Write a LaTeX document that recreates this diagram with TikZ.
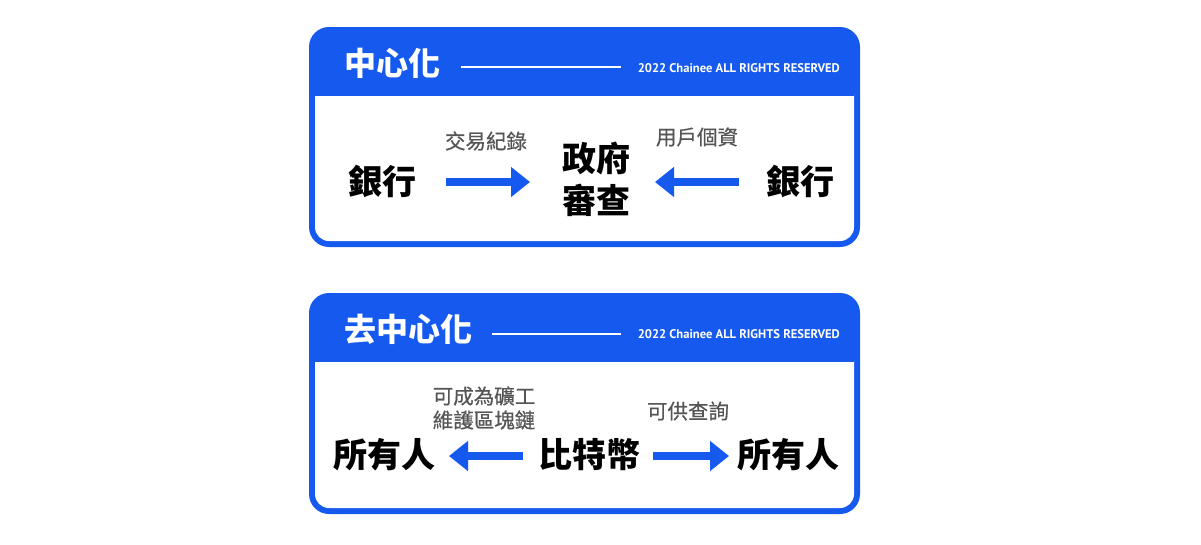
\documentclass[tikz,border=0pt]{standalone}
\usepackage{fontspec}
\usetikzlibrary{arrows.meta}
\newfontfamily\cjk{Noto Sans CJK TC}
\newfontfamily\cjkm[FakeBold=0.6]{Noto Sans CJK TC}
\newfontfamily\cprfont{PT Sans}
\definecolor{cblue}{HTML}{1559EE}
\definecolor{lgray}{HTML}{555555}
\tikzset{
  cardtitle/.style={text=white, font=\cjk\bfseries\fontsize{32}{38}\selectfont, inner sep=0pt, anchor=west},
  cprnode/.style={text=white, inner sep=0pt, anchor=east, font=\cprfont\bfseries},
  mainlabel/.style={text=black, font=\cjk\bfseries\fontsize{34}{42}\selectfont, inner sep=0pt, align=center},
  sublabel/.style={text=lgray, font=\cjkm\fontsize{20.5}{24}\selectfont, inner sep=0pt, align=center},
  bigarrow/.style={draw=cblue, line width=7.5pt, -{Triangle[length=19pt,width=29pt]}},
  hline/.style={draw=white, line width=1.3pt}
}
\newcommand{\cprtext}{\resizebox{202pt}{!}{2022 Chainee ALL RIGHTS RESERVED}}
\begin{document}
\begin{tikzpicture}[x=1pt,y=-1pt]
\useasboundingbox (0,0) rectangle (1201,544);
\fill[white] (0,0) rectangle (1201,544);
% ---- card 1 ----
\fill[cblue, rounded corners=20pt] (309,27) rectangle (860,247);
\fill[white, rounded corners=14pt] (315,80) rectangle (854,241);
\fill[cblue] (315,70) rectangle (854,96);
\node[cardtitle] (t1) at (344,63) {中心化};
\coordinate (l1a) at (461,67);
\coordinate (l1b) at (621,67);
\draw[hline] (l1a) -- (l1b);
\node[cprnode] (r1) at (840,68) {\cprtext};
\node[mainlabel] (bankL) at (382,181) {銀行};
\node[mainlabel] (gov) at (596,179) {政府\\審查};
\node[mainlabel] (bankR) at (800,181) {銀行};
\node[sublabel] (lab1) at (486,141) {交易紀錄};
\node[sublabel] (lab2) at (697,137) {用戶個資};
\coordinate (a1s) at (446,182);
\coordinate (a1e) at (530,182);
\coordinate (a2s) at (739,182);
\coordinate (a2e) at (655,182);
\draw[bigarrow] (a1s) -- (a1e);
\draw[bigarrow] (a2s) -- (a2e);
% ---- card 2 ----
\fill[cblue, rounded corners=20pt] (309,293) rectangle (860,514);
\fill[white, rounded corners=14pt] (315,346) rectangle (854,508);
\fill[cblue] (315,336) rectangle (854,362);
\node[cardtitle] (t2) at (344,329) {去中心化};
\coordinate (l2a) at (492,334);
\coordinate (l2b) at (621,334);
\draw[hline] (l2a) -- (l2b);
\node[cprnode] (r2) at (840,334) {\cprtext};
\node[mainlabel] (ownL) at (384,455) {所有人};
\node[mainlabel] (btc) at (589,455) {比特幣};
\node[mainlabel] (ownR) at (788,455) {所有人};
\node[sublabel] (lab3) at (484,408) {可成為礦工\\維護區塊鏈};
\node[sublabel] (lab4) at (688,411) {可供查詢};
\coordinate (b1s) at (523,456);
\coordinate (b1e) at (449,456);
\coordinate (b2s) at (653,456);
\coordinate (b2e) at (729,456);
\draw[bigarrow] (b1s) -- (b1e);
\draw[bigarrow] (b2s) -- (b2e);
\end{tikzpicture}
\end{document}
